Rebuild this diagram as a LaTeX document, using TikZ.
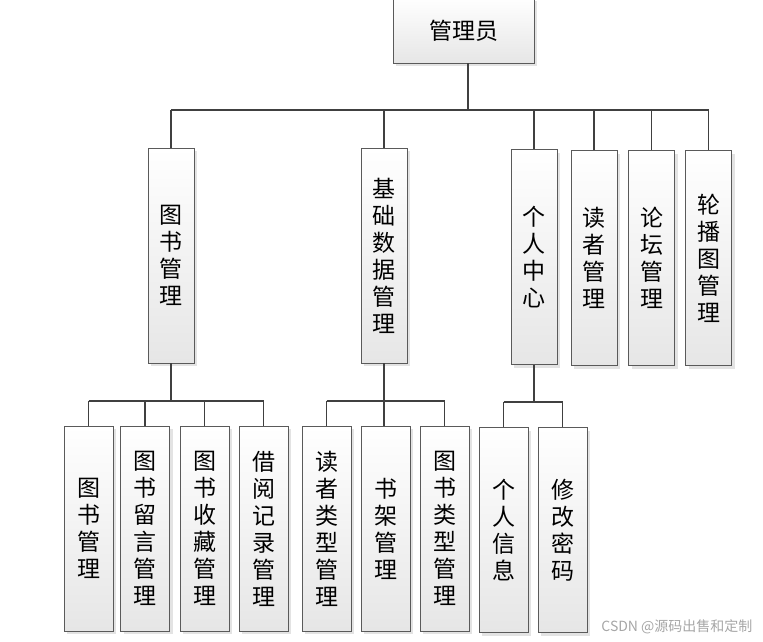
\documentclass[tikz,border=0pt]{standalone}
\usepackage{fontspec}
\setmainfont{Noto Sans CJK SC}
\usepackage{tikz}
\usetikzlibrary{shadows}

\definecolor{linegray}{HTML}{404040}
\definecolor{boxedge}{HTML}{5A5A5A}
\definecolor{boxbottom}{HTML}{E6E6E6}

\begin{document}
\begin{tikzpicture}[x=1pt, y=-1pt,
  modbox/.style={draw=boxedge, line width=0.8pt, top color=white, bottom color=boxbottom,
    drop shadow={shadow xshift=3pt, shadow yshift=-3pt, fill=black!18, opacity=0.6},
    align=center, inner sep=0pt, font=\fontsize{23}{27}\selectfont},
  midbox/.style={modbox, minimum width=46pt, minimum height=215pt},
  leafbox/.style={modbox, minimum width=49pt, minimum height=205pt},
  link/.style={draw=linegray, line width=1.8pt}]

\useasboundingbox (0, 0) rectangle (763, 641);

% draw root
\node[modbox, minimum width=141pt, minimum height=65pt] (admin) at (463.5, 30.5) {管理员};

% draw second level
\node[midbox] (bookmgr) at (171, 255.5) {图\\书\\管\\理};
\node[midbox] (basedata) at (384, 255.5) {基\\础\\数\\据\\管\\理};
\node[midbox] (personal) at (534, 257) {个\\人\\中\\心};
\node[midbox] (reader) at (594, 258) {读\\者\\管\\理};
\node[midbox] (forum) at (651.5, 258) {论\\坛\\管\\理};
\node[midbox] (carousel) at (708.5, 258) {轮\\播\\图\\管\\理};

% draw third level
\node[leafbox] (books) at (88.5, 528.5) {图\\书\\管\\理};
\node[leafbox] (bookmsg) at (145, 528.5) {图\\书\\留\\言\\管\\理};
\node[leafbox] (bookfav) at (204.5, 528.5) {图\\书\\收\\藏\\管\\理};
\node[leafbox] (borrow) at (263.5, 528.5) {借\\阅\\记\\录\\管\\理};
\node[leafbox] (readertype) at (326.5, 528.5) {读\\者\\类\\型\\管\\理};
\node[leafbox] (shelf) at (385.5, 528.5) {书\\架\\管\\理};
\node[leafbox] (booktype) at (444.5, 528.5) {图\\书\\类\\型\\管\\理};
\node[leafbox] (info) at (503.5, 530) {个\\人\\信\\息};
\node[leafbox] (passwd) at (562.5, 530) {修\\改\\密\\码};

% draw buses
\coordinate (topbus) at (468, 110);
\coordinate (bookbus) at (0, 401);
\coordinate (basebus) at (0, 401);
\coordinate (personbus) at (0, 402);

% draw connectors from root
\draw[link] (admin.south -| topbus) -- (topbus);
\draw[link] (topbus -| bookmgr.north) -- (topbus -| carousel.north);
\foreach \n in {bookmgr, basedata, personal, reader, forum, carousel}
  \draw[link] (topbus -| \n.north) -- (\n.north);

% draw connectors of 图书管理
\draw[link] (bookmgr.south) -- (bookbus -| bookmgr.south);
\draw[link] (bookbus -| books.north) -- (bookbus -| borrow.north);
\foreach \n in {books, bookmsg, bookfav, borrow}
  \draw[link] (bookbus -| \n.north) -- (\n.north);

% draw connectors of 基础数据管理
\draw[link] (basedata.south) -- (basebus -| basedata.south);
\draw[link] (basebus -| readertype.north) -- (basebus -| booktype.north);
\foreach \n in {readertype, booktype}
  \draw[link] (basebus -| \n.north) -- (\n.north);
\draw[link] (basebus -| basedata.south) -- (basedata.south |- shelf.north);

% draw connectors of 个人中心
\draw[link] (personal.south) -- (personbus -| personal.south);
\draw[link] (personbus -| info.north) -- (personbus -| passwd.north);
\foreach \n in {info, passwd}
  \draw[link] (personbus -| \n.north) -- (\n.north);

% draw watermark
\node[text=black!35, font=\fontsize{14}{16}\selectfont, anchor=east] (mark) at (756, 627) {CSDN @源码出售和定制};

\end{tikzpicture}
\end{document}
